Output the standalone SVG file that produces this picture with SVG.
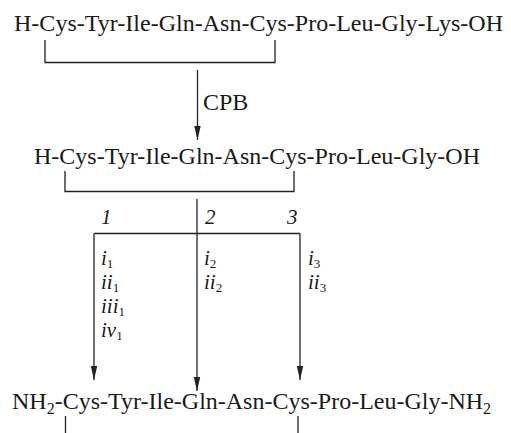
<svg xmlns="http://www.w3.org/2000/svg" width="511" height="433" viewBox="0 0 511 433">
<defs>
<style>
.t{font-family:"Liberation Serif","Times New Roman",serif;font-size:24px;fill:#1a1a1a}
.it{font-family:"Liberation Serif","Times New Roman",serif;font-size:21px;font-style:italic;fill:#1a1a1a}
.sub{font-size:16px}
.isub{font-size:13px;font-style:normal}
.ln{stroke:#222;stroke-width:1.3;fill:none}
</style>
<marker id="ah" markerUnits="userSpaceOnUse" markerWidth="16" markerHeight="8" viewBox="-15 -4 16 8" refX="0" refY="0" orient="auto">
<path d="M-14,-3.2 L0,0 L-14,3.2 Z" fill="#222"/>
</marker>
</defs>
<rect width="511" height="433" fill="#fff"/>
<g id="peptide1">
<text class="t" x="14" y="31" textLength="489" lengthAdjust="spacingAndGlyphs">H-Cys-Tyr-Ile-Gln-Asn-Cys-Pro-Leu-Gly-Lys-OH</text>
<path class="ln" d="M45,40 V62.5 H275 V40"/>
</g>
<g id="peptide2">
<text class="t" x="34" y="164" textLength="446" lengthAdjust="spacingAndGlyphs">H-Cys-Tyr-Ile-Gln-Asn-Cys-Pro-Leu-Gly-OH</text>
<path class="ln" d="M65,171 V191.5 H294 V171"/>
</g>
<g id="peptide3">
<text class="t" x="12" y="409">NH<tspan class="sub" dy="5">2</tspan><tspan dy="-5">-Cys-Tyr-Ile-Gln-Asn-Cys-Pro-Leu-Gly-NH</tspan><tspan class="sub" dy="5">2</tspan></text>
<path class="ln" d="M65.5,416 V433 M298,416 V433"/>
</g>
<g id="connectors">
<path class="ln" d="M197.5,70 V140" marker-end="url(#ah)"/>
<text class="t" x="203" y="110">CPB</text>
<path class="ln" d="M197,199 V391" marker-end="url(#ah)"/>
<path class="ln" d="M94,233.5 H300"/>
<path class="ln" d="M94,233.5 V380" marker-end="url(#ah)"/>
<path class="ln" d="M300,233.5 V380" marker-end="url(#ah)"/>
</g>
<g id="labels">
<text class="it" x="101" y="224" font-size="23">1</text>
<text class="it" x="205" y="224" font-size="23">2</text>
<text class="it" x="287" y="224" font-size="23">3</text>
<text class="it" x="101" y="265">i<tspan class="isub" dy="3">1</tspan></text>
<text class="it" x="101" y="289">ii<tspan class="isub" dy="3">1</tspan></text>
<text class="it" x="101" y="313">iii<tspan class="isub" dy="3">1</tspan></text>
<text class="it" x="101" y="337">iv<tspan class="isub" dy="3">1</tspan></text>
<text class="it" x="204" y="265">i<tspan class="isub" dy="3">2</tspan></text>
<text class="it" x="204" y="289">ii<tspan class="isub" dy="3">2</tspan></text>
<text class="it" x="308" y="265">i<tspan class="isub" dy="3">3</tspan></text>
<text class="it" x="308" y="289">ii<tspan class="isub" dy="3">3</tspan></text>
</g>
</svg>
